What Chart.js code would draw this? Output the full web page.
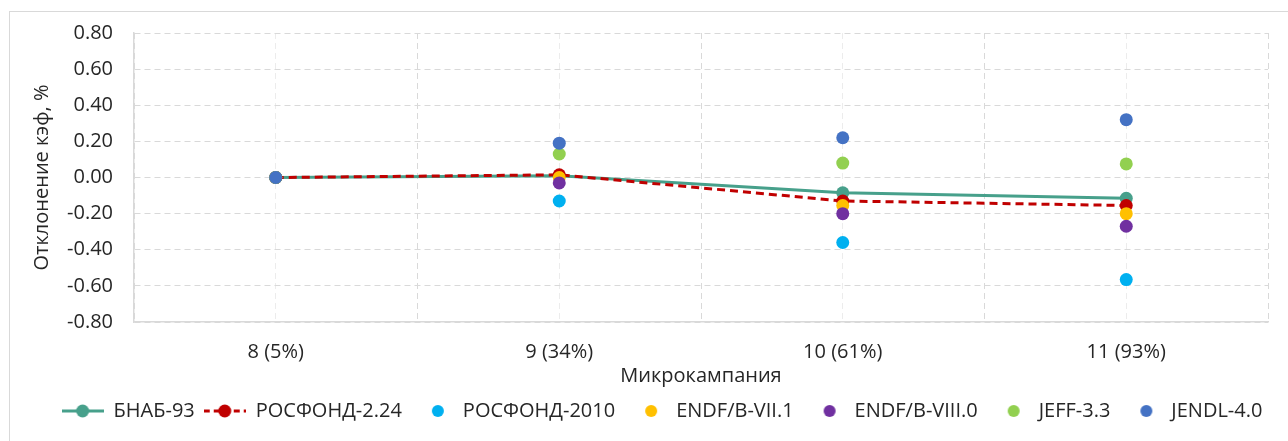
<!DOCTYPE html>
<html>
<head>
<meta charset="utf-8">
<script src="https://cdn.jsdelivr.net/npm/chart.js@4.4.0/dist/chart.umd.min.js"></script>
<style>
  html, body { margin: 0; padding: 0; background: #fff; overflow: hidden; }
  #ramka { position: absolute; left: 9px; top: 11px; width: 1300px; height: 460px; border: 1px solid #d9d9d9; }
  #wrap { position: absolute; left: 0; top: 0; width: 1288px; height: 441px; }
</style>
</head>
<body>
<div id="ramka"></div>
<div id="wrap"><canvas id="grafico"></canvas></div>
<script>
// Категории (микрокампании)
let kampanii = ['8 (5%)', '9 (34%)', '10 (61%)', '11 (93%)'];

// Отклонение кэф, % по библиотекам
let bnab93 = [0, 0.01, -0.085, -0.115];
let rosfond224 = [0, 0.015, -0.13, -0.155];
let rosfond2010 = [0, -0.13, -0.36, -0.565];
let endf71 = [0, 0.0, -0.155, -0.20];
let endf80 = [0, -0.03, -0.20, -0.27];
let jeff33 = [0, 0.13, 0.08, 0.075];
let jendl40 = [0, 0.19, 0.22, 0.32];

let shrift = '"Open Sans", sans-serif';
let cvetText = '#262626';
let razmer = 20;

// значок для легенды: линия с точкой или только точка
function znachok(cvet, liniya, punktir) {
  let c = document.createElement('canvas');
  c.width = 42; c.height = 16;
  let x = c.getContext('2d');
  if (liniya) {
    x.strokeStyle = cvet;
    x.lineWidth = 3;
    if (punktir) x.setLineDash([6, 4]);
    x.beginPath(); x.moveTo(0, 8); x.lineTo(42, 8); x.stroke();
    x.setLineDash([]);
    x.fillStyle = cvet;
    x.beginPath(); x.arc(21, 8, 6.5, 0, Math.PI * 2); x.fill();
  } else {
    x.fillStyle = cvet;
    x.beginPath(); x.arc(27, 8, 6, 0, Math.PI * 2); x.fill();
  }
  return c;
}

function tochki(label, data, cvet, i) {
  return {
    label: label, data: data, showLine: false,
    backgroundColor: cvet, borderColor: cvet,
    pointRadius: 6.5, pointHoverRadius: 6.5, pointBorderWidth: 0,
    order: 10 - i, znak: znachok(cvet, false)
  };
}

let nabory = [
  { label: 'БНАБ-93', data: bnab93, borderColor: '#47a08b', backgroundColor: '#47a08b',
    borderWidth: 3, pointRadius: 6.5, pointBorderWidth: 0, tension: 0, order: 10,
    znak: znachok('#47a08b', true, false) },
  { label: 'РОСФОНД-2.24', data: rosfond224, borderColor: '#c00000', backgroundColor: '#c00000',
    borderWidth: 3, borderDash: [8, 5], pointRadius: 6.5, pointBorderWidth: 0, tension: 0, order: 9,
    znak: znachok('#c00000', true, true) },
  tochki('РОСФОНД-2010', rosfond2010, '#00b0f0', 2),
  tochki('ENDF/B-VII.1', endf71, '#ffc000', 3),
  tochki('ENDF/B-VIII.0', endf80, '#7030a0', 4),
  tochki('JEFF-3.3', jeff33, '#92d050', 5),
  tochki('JENDL-4.0', jendl40, '#4472c4', 6)
];

// сдвиг легенды немного вправо, как в оригинале
let sdvigLegendy = {
  id: 'sdvigLegendy',
  afterLayout(chart) {
    chart.legend.left += 13;
    chart.legend.right += 13;
  }
};

let grafico = document.getElementById('grafico').getContext('2d');

let diagrama = new Chart(grafico, {
  type: 'line',
  data: { labels: kampanii, datasets: nabory },
  plugins: [sdvigLegendy],
  options: {
    responsive: true,
    maintainAspectRatio: false,
    animation: false,
    layout: { padding: { left: 30, right: 20, top: 24, bottom: 10 } },
    plugins: {
      tooltip: { enabled: false },
      legend: {
        position: 'bottom',
        labels: {
          usePointStyle: true,
          pointStyleWidth: 42,
          padding: 9,
          color: cvetText,
          font: { family: shrift, size: razmer },
          generateLabels: function (chart) {
            return chart.data.datasets.map((d, i) => ({
              text: d.label, datasetIndex: i, pointStyle: d.znak,
              fillStyle: d.backgroundColor, strokeStyle: d.borderColor,
              lineWidth: 0, hidden: false, fontColor: cvetText
            }));
          }
        }
      }
    },
    scales: {
      x: {
        offset: true,
        grid: { offset: true, color: '#d9d9d9', drawTicks: false },
        border: { color: '#d9d9d9', width: 1.5, dash: [6, 4] },
        ticks: { color: cvetText, font: { family: shrift, size: razmer }, padding: 18 },
        title: { display: true, text: 'Микрокампания', color: cvetText,
                 font: { family: shrift, size: razmer }, padding: { top: -18, bottom: 4 } }
      },
      x2: {
        offset: true,
        position: 'bottom',
        labels: kampanii,
        afterFit: function (s) { s.height = 0; },
        grid: { offset: false, color: '#ececec', drawTicks: false },
        border: { display: false, dash: [6, 4] },
        ticks: { display: false }
      },
      y: {
        min: -0.8, max: 0.8,
        afterFit: function (s) { s.width = 104; },
        grid: { color: '#d9d9d9', drawTicks: false },
        border: { color: '#d9d9d9', width: 1.5, dash: [6, 4] },
        ticks: {
          stepSize: 0.2, color: cvetText, padding: 21,
          font: { family: shrift, size: razmer },
          callback: v => v.toFixed(2)
        },
        title: { display: true, text: 'Отклонение кэф, %', color: cvetText,
                 font: { family: shrift, size: razmer }, padding: 0 }
      }
    }
  }
});
</script>
</body>
</html>
